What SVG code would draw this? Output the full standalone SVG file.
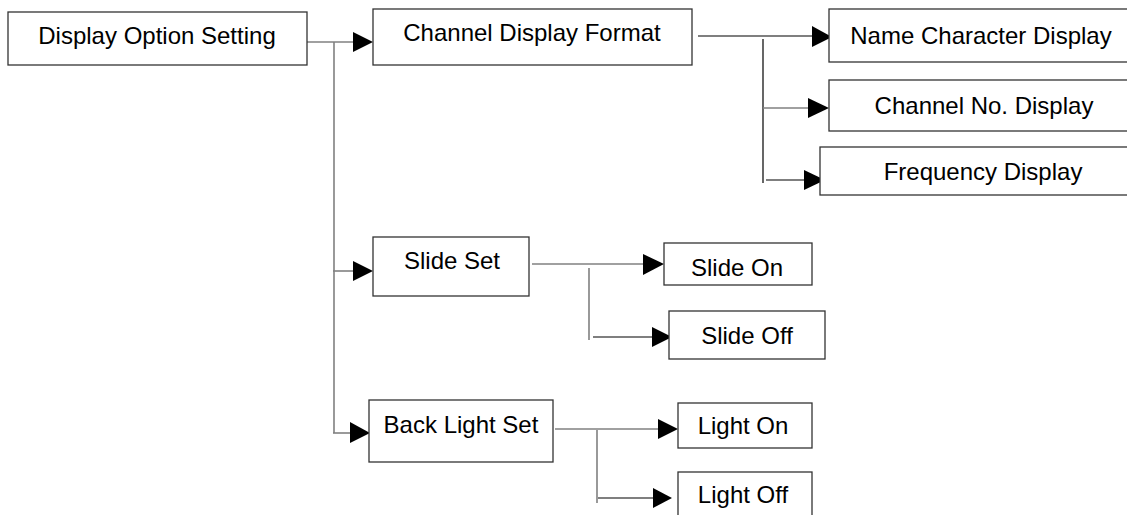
<svg xmlns="http://www.w3.org/2000/svg" width="1127" height="515" viewBox="0 0 1127 515">
<style>
.box{fill:#fff;stroke:#333;stroke-width:1.3}
.t{font-family:"Liberation Sans",Arial,sans-serif;font-size:24px;fill:#000;text-anchor:middle}
.g{stroke:#808080;stroke-width:1.6;fill:none}
.k{stroke:#000;stroke-width:1.2;fill:none}
.ah{fill:#000}
</style>
<rect width="1127" height="515" fill="#fff"/>
<g id="connectors">
<line class="g" x1="307" y1="42" x2="355" y2="42"/><polygon class="ah" points="353,32 373,42 353,52"/>
<line class="g" x1="334" y1="42" x2="334" y2="433"/>
<line class="g" x1="333" y1="271" x2="355" y2="271"/><polygon class="ah" points="353,261 373,271 353,281"/>
<line class="g" x1="333" y1="433" x2="352" y2="433"/><polygon class="ah" points="350,422 370,433 350,443"/>
<line class="k" x1="698" y1="36" x2="814" y2="36"/><polygon class="ah" points="812,26 832,37 812,47"/>
<line class="k" x1="763" y1="39" x2="763" y2="183"/>
<line class="g" x1="763" y1="108" x2="810" y2="108"/><polygon class="ah" points="808,98 829,108 808,118"/>
<line class="k" x1="766" y1="180" x2="806" y2="180"/><polygon class="ah" points="804,170 825,180 804,190"/>
<line class="g" x1="532" y1="264" x2="645" y2="264"/><polygon class="ah" points="643,254 664,264 643,275"/>
<line class="g" x1="589" y1="268" x2="589" y2="340"/>
<line class="k" x1="593" y1="337" x2="654" y2="337"/><polygon class="ah" points="652,327 672,337 652,347"/>
<line class="g" x1="555" y1="429" x2="660" y2="429"/><polygon class="ah" points="658,419 678,429 658,439"/>
<line class="g" x1="597" y1="430" x2="597" y2="503"/>
<line class="k" x1="598" y1="498" x2="655" y2="498"/><polygon class="ah" points="653,488 672,498 653,508"/>
</g>
<g id="n-display-option"><rect class="box" x="8" y="12" width="299" height="53"/><text class="t" x="157" y="44">Display Option Setting</text></g>
<g id="n-channel-format"><rect class="box" x="373" y="9" width="319" height="56"/><text class="t" x="532" y="41">Channel Display Format</text></g>
<g id="n-name-char"><rect class="box" x="829" y="9" width="310" height="53"/><text class="t" x="981" y="44">Name Character Display</text></g>
<g id="n-channel-no"><rect class="box" x="829" y="80" width="310" height="51"/><text class="t" x="984" y="114">Channel No. Display</text></g>
<g id="n-frequency"><rect class="box" x="820" y="147" width="319" height="48"/><text class="t" x="983" y="180">Frequency Display</text></g>
<g id="n-slide-set"><rect class="box" x="373" y="237" width="156" height="59"/><text class="t" x="452" y="269">Slide Set</text></g>
<g id="n-slide-on"><rect class="box" x="664" y="243" width="148" height="42"/><text class="t" x="737" y="276">Slide On</text></g>
<g id="n-slide-off"><rect class="box" x="669" y="311" width="156" height="48"/><text class="t" x="747" y="344">Slide Off</text></g>
<g id="n-back-light"><rect class="box" x="369" y="400" width="184" height="62"/><text class="t" x="461" y="433">Back Light Set</text></g>
<g id="n-light-on"><rect class="box" x="678" y="403" width="134" height="45"/><text class="t" x="743" y="434">Light On</text></g>
<g id="n-light-off"><rect class="box" x="678" y="472" width="134" height="60"/><text class="t" x="743" y="503">Light Off</text></g>
</svg>
